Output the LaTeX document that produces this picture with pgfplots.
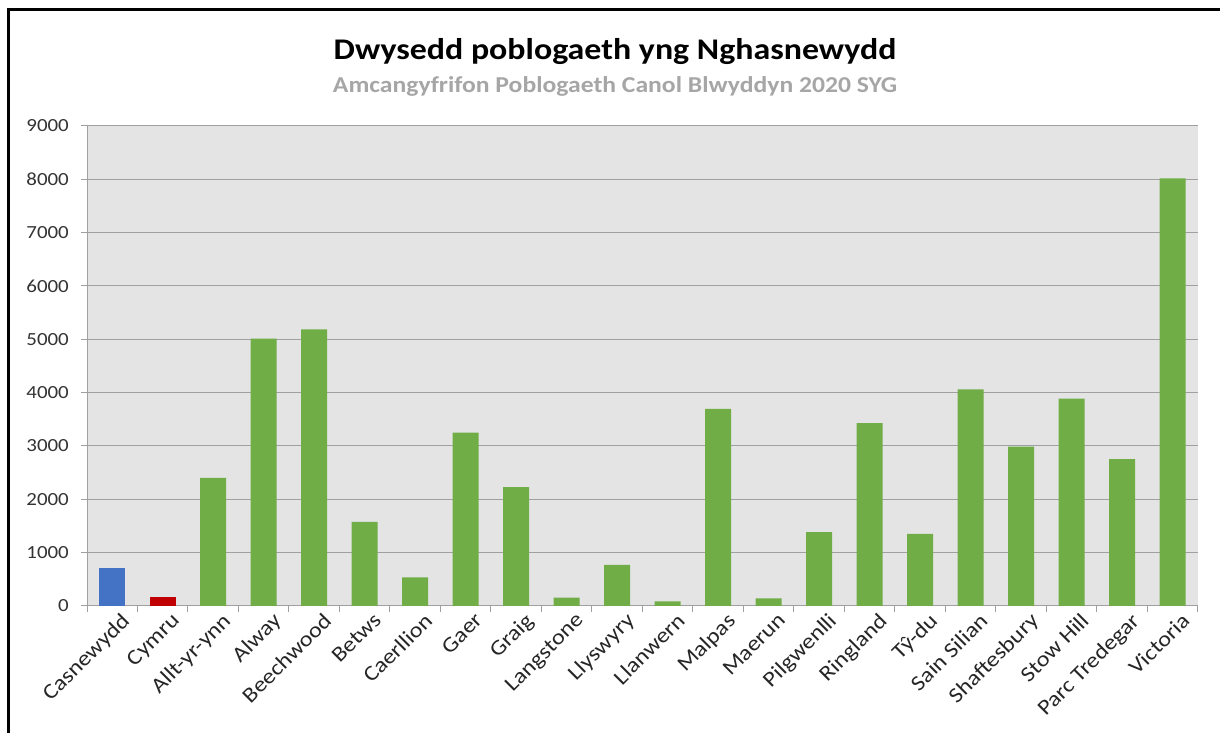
\documentclass[border=0pt]{standalone}
\usepackage{pgfplots}
\pgfplotsset{compat=1.18}
\usepackage{fontspec}
\setmainfont{Carlito}[FakeStretch=1.13]
\definecolor{plotbg}{HTML}{E4E4E4}
\definecolor{gridc}{HTML}{A0A0A0}
\definecolor{barg}{HTML}{70AD47}
\definecolor{barb}{HTML}{4472C4}
\definecolor{barr}{HTML}{C00000}
\definecolor{subg}{HTML}{A6A6A6}
\begin{document}
\begin{tikzpicture}[x=1pt,y=1pt]
\useasboundingbox (0,0) rectangle (1220,733);
\fill[white] (0,0) rectangle (1220,733);
\draw[line width=3pt] (8.5,0) -- (8.5,723.5) -- (1220,723.5);
\node[anchor=base, font=\fontsize{30}{34}\selectfont\bfseries] at (615,673) {Dwysedd poblogaeth yng Nghasnewydd};
\node[anchor=base, text=subg, font=\fontsize{22.7}{26}\selectfont\bfseries] at (615,640) {Amcangyfrifon Poblogaeth Canol Blwyddyn 2020 SYG};
\begin{axis}[
  at={(87pt,127pt)}, anchor=south west,
  scale only axis, width=1111pt, height=480pt,
  xmin=-0.5, xmax=21.5, ymin=0, ymax=9000,
  ytick={0,1000,...,9000},
  xtick={0,...,21},
  xticklabels={Casnewydd,Cymru,Allt-yr-ynn,Alway,Beechwood,Betws,Caerllion,Gaer,Graig,Langstone,Llyswyry,Llanwern,Malpas,Maerun,Pilgwenlli,Ringland,Tŷ-du,Sain Silian,Shaftesbury,Stow Hill,Parc Tredegar,Victoria},
  minor xtick={-0.5,0.5,...,21.5},
  axis lines=left,
  axis line style={-, draw=gridc, line width=1pt},
  tick align=outside,
  major tick length=6pt, minor tick length=6pt,
  major x tick style={draw=none},
  minor x tick style={draw=gridc, line width=1pt},
  ytick style={draw=gridc, line width=1pt},
  ymajorgrids, grid style={draw=gridc, line width=1pt},
  axis background/.style={fill=plotbg},
  /pgf/number format/assume math mode=true,
  yticklabel style={font=\fontsize{18.5}{20}\selectfont, text=black!80, inner sep=0pt, xshift=-12pt},
  xticklabel style={font=\fontsize{21.5}{23}\selectfont, text=black!85, rotate=45, anchor=north east, inner sep=0pt, xshift=6pt, yshift=-5pt},
  scaled y ticks=false,
  yticklabel={\pgfmathprintnumber[fixed,1000 sep={}]{\tick}},
  bar width=26pt,
  ybar, bar shift=0pt,
  clip=false,
]
\addplot[fill=barb, draw=none] coordinates {(0,712)};
\addplot[fill=barr, draw=none] coordinates {(1,162)};
\addplot[fill=barg, draw=none] coordinates {
(2,2400) (3,5012) (4,5187) (5,1575) (6,537) (7,3250) (8,2231) (9,156) (10,769)
(11,87) (12,3694) (13,144) (14,1387) (15,3431) (16,1350) (17,4062) (18,2987)
(19,3887) (20,2756) (21,8020)};
\end{axis}
\end{tikzpicture}
\end{document}
